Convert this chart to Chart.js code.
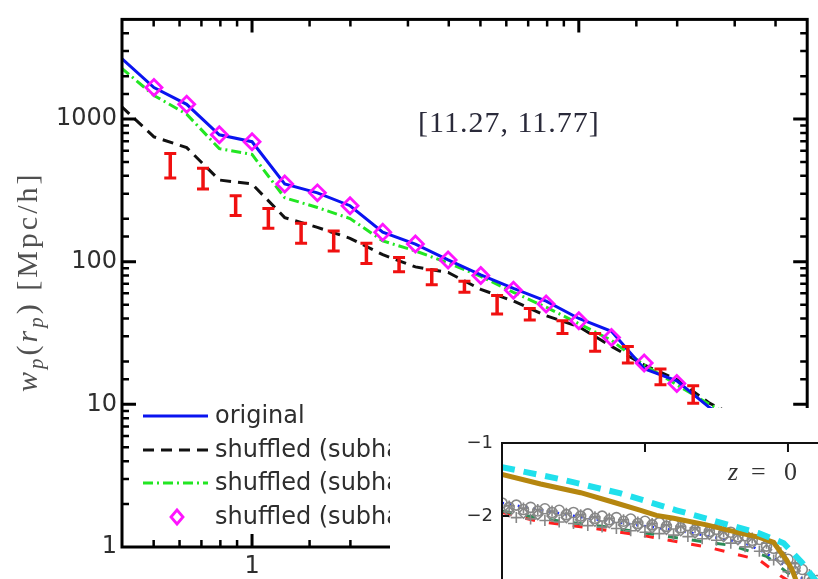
<!DOCTYPE html>
<html>
<head>
<meta charset="utf-8">
<script src="https://cdn.jsdelivr.net/npm/chart.js@4.4.0/dist/chart.umd.min.js"></script>
<style>
  html, body { margin: 0; padding: 0; background: #fff; }
  #wrap { position: relative; width: 818px; height: 579px; overflow: hidden; }
  #inset { position: absolute; left: 390px; top: 408px; width: 428px; height: 171px; background: #fff; overflow: hidden; }
  canvas { display: block; }
</style>
</head>
<body>
<div id="wrap">
  <canvas id="mainChart" width="818" height="579"></canvas>
  <div id="inset"><canvas id="insetChart" width="428" height="171"></canvas></div>
</div>
<script>
// ---- main panel: w_p(r_p), log-log ----
const rpBins = [0.398, 0.501, 0.631, 0.794, 1.0, 1.259, 1.585, 1.995, 2.512, 3.162, 3.981, 5.012, 6.310, 7.943, 10.0, 12.59, 15.85, 19.95, 25.12, 31.62];
const wpOriginal = [2678, 1663, 1269, 776, 694, 351, 304, 247, 161, 133, 103, 81, 65, 53, 40, 32.5, 17.8, 14.6, 9.5, 6.8];
const wpShuffledDash = [1230, 751, 631, 374, 351, 204, 174, 146, 112, 92, 84, 64, 53, 41.8, 35, 25.5, 18.9, 14.9, 10.2, 7.8];
const wpShuffledDashDot = [2285, 1465, 1082, 621, 565, 281, 240, 201, 140, 119, 98, 79, 61, 48, 36.8, 28.1, 18.9, 13.7, 10, 7.5];
const wpShuffledDiamond = [null, 1663, 1269, 776, 694, 351, 304, 247, 161, 133, 103, 80, 63, 50.5, 38.6, 29.4, 19.5, 14.0, null, null];

const obsRp = [0.562, 0.708, 0.891, 1.122, 1.413, 1.778, 2.239, 2.818, 3.548, 4.467, 5.623, 7.079, 8.913, 11.22, 14.13, 17.78, 22.39];
const obsHigh = [574, 452, 290, 236, 186, 164, 135, 107, 88, 73, 58, 47, 38.6, 31.4, 25.5, 17.7, 13.5];
const obsLow = [386, 324, 211, 172, 135, 119, 97, 85, 69, 61, 43, 39, 31.4, 23.6, 19.5, 13.7, 10.2];

const seriesLabels = ["original", "shuffled (subhalo mass)", "shuffled (subhalo Vmax)", "shuffled (subhalo Vpeak)"];
const binLabel = "[11.27, 11.77]";

// ---- inset panel ----
const insetMassGrid = [9.0, 9.1, 9.2, 9.3, 9.4, 9.5, 9.6, 9.7, 9.8, 9.9, 10.0, 10.1, 10.2, 10.3, 10.4, 10.5, 10.6, 10.7, 10.8, 10.9, 11.0, 11.1, 11.2];
const insetMassMid = [9.05, 9.15, 9.25, 9.35, 9.45, 9.55, 9.65, 9.75, 9.85, 9.95, 10.05, 10.15, 10.25, 10.35, 10.45, 10.55, 10.65, 10.75, 10.85, 10.95, 11.05, 11.15];
const insetCircles = [-1.82, -1.85, -1.88, -1.90, -1.92, -1.95, -1.97, -2.00, -2.02, -2.04, -2.07, -2.09, -2.11, -2.13, -2.16, -2.18, -2.22, -2.27, -2.32, -2.44, -2.59, -2.73, -2.88];
const insetCirclesMid = [-1.88, -1.91, -1.93, -1.95, -1.98, -2.00, -2.03, -2.05, -2.07, -2.10, -2.12, -2.14, -2.16, -2.19, -2.21, -2.24, -2.28, -2.33, -2.41, -2.55, -2.70, -2.85];
const insetDiamonds = [-1.94, -1.96, -1.98, -2.00, -2.02, -2.05, -2.07, -2.09, -2.12, -2.14, -2.16, -2.18, -2.20, -2.23, -2.25, -2.28, -2.32, -2.37, -2.46, -2.60, -2.75, -2.90];
const insetCrosses = [-2.00, -2.02, -2.04, -2.06, -2.08, -2.10, -2.13, -2.15, -2.17, -2.20, -2.22, -2.24, -2.26, -2.28, -2.31, -2.33, -2.37, -2.42, -2.48, -2.60, -2.76, -2.90, -3.04];
const insetCrossesTop = [-1.86, -1.89, -1.91, -1.93, -1.96, -1.98, -2.01, -2.03, -2.05, -2.08, -2.10, -2.12, -2.14, -2.16, -2.19, -2.21, -2.25, -2.30, -2.37, -2.50, -2.65, -2.80];
const cyanX = [9.0, 9.42, 9.83, 10.22, 10.79, 10.97, 11.1, 11.22];
const cyanY = [-1.33, -1.50, -1.69, -1.92, -2.23, -2.37, -2.64, -2.95];
const brownX = [9.0, 9.27, 9.55, 9.78, 9.97, 10.08, 10.2, 10.43, 10.66, 10.8, 10.9, 10.94, 10.99, 11.03, 11.08];
const brownY = [-1.43, -1.56, -1.68, -1.81, -1.92, -1.99, -2.03, -2.12, -2.23, -2.29, -2.36, -2.47, -2.60, -2.74, -3.0];
const blueDotX = [9.0, 9.4, 9.6, 10.05, 10.3, 10.7, 10.85, 11.0, 11.2];
const blueDotY = [-1.82, -1.96, -2.03, -2.15, -2.22, -2.37, -2.51, -2.70, -3.0];
const redDashX = [9.0, 9.25, 9.65, 10.0, 10.25, 10.45, 10.8, 10.95, 11.1];
const redDashY = [-1.95, -2.07, -2.17, -2.27, -2.36, -2.43, -2.60, -2.82, -3.0];
const greenDashX = [9.0, 9.3, 9.7, 10.0, 10.3, 10.6, 10.85, 11.0, 11.15];
const greenDashY = [-1.93, -2.04, -2.14, -2.23, -2.32, -2.40, -2.55, -2.78, -3.0];
const insetYTicks = [-2, -1];
const insetTopTicks = [10, 11];
const insetLeftTicks = [-2];

const TEXT = "#2e2e2e";
const SANS = "'DejaVu Sans', sans-serif";
const SERIF = "'Liberation Serif', serif";

function pts(xs, ys) {
    return xs.map((x, i) => ({ x: x, y: ys[i] }));
}

function isDecade(v) {
    const l = Math.log10(v);
    return Math.abs(l - Math.round(l)) < 1e-6;
}

// inward ticks on all four sides plus the frame
const frameTicks = {
    id: "frameTicks",
    afterDraw(chart) {
        const { ctx, chartArea: a, scales: { x, y } } = chart;
        ctx.save();
        ctx.strokeStyle = "#000";
        x.ticks.forEach(t => {
            const px = x.getPixelForValue(t.value);
            if (px < a.left + 2 || px > a.right - 2) return;
            const major = isDecade(t.value);
            const len = major ? 13 : 7;
            ctx.lineWidth = major ? 3 : 2.5;
            ctx.beginPath();
            ctx.moveTo(px, a.bottom); ctx.lineTo(px, a.bottom - len);
            ctx.moveTo(px, a.top); ctx.lineTo(px, a.top + len);
            ctx.stroke();
        });
        y.ticks.forEach(t => {
            const py = y.getPixelForValue(t.value);
            if (py < a.top + 2 || py > a.bottom - 2) return;
            const major = isDecade(t.value);
            const len = major ? 14 : 7;
            ctx.lineWidth = major ? 3 : 2.5;
            ctx.beginPath();
            ctx.moveTo(a.left, py); ctx.lineTo(a.left + len, py);
            ctx.moveTo(a.right, py); ctx.lineTo(a.right - len, py);
            ctx.stroke();
        });
        ctx.lineWidth = 3;
        ctx.strokeRect(a.left, a.top, a.right - a.left, a.bottom - a.top);
        ctx.restore();
    }
};

const errorBars = {
    id: "errorBars",
    afterDatasetsDraw(chart) {
        const { ctx, chartArea: a, scales: { x, y } } = chart;
        ctx.save();
        ctx.beginPath();
        ctx.rect(a.left, a.top, a.right - a.left, a.bottom - a.top);
        ctx.clip();
        ctx.strokeStyle = "#f01010";
        ctx.lineCap = "butt";
        obsRp.forEach((r, i) => {
            const px = x.getPixelForValue(r);
            const yTop = y.getPixelForValue(obsHigh[i]);
            const yBot = y.getPixelForValue(obsLow[i]);
            ctx.lineWidth = 3.5;
            ctx.beginPath();
            ctx.moveTo(px, yTop); ctx.lineTo(px, yBot);
            ctx.stroke();
            ctx.lineWidth = 3;
            ctx.beginPath();
            ctx.moveTo(px - 6, yTop); ctx.lineTo(px + 6, yTop);
            ctx.moveTo(px - 6, yBot); ctx.lineTo(px + 6, yBot);
            ctx.stroke();
        });
        ctx.restore();
    }
};

const texts = {
    id: "texts",
    afterDraw(chart) {
        const ctx = chart.ctx;
        ctx.save();
        // bin label
        ctx.fillStyle = "#2a2a3a";
        ctx.font = "30px " + SERIF;
        ctx.letterSpacing = "1px";
        ctx.textBaseline = "middle";
        ctx.fillText(binLabel, 418, 124);

        // y axis title, rotated
        ctx.translate(37, 392);
        ctx.rotate(-Math.PI / 2);
        ctx.fillStyle = "#505050";
        ctx.textBaseline = "alphabetic";
        ctx.letterSpacing = "3px";
        const parts = [
            ["italic 30px " + SERIF, "w", 0],
            ["italic 21px " + SERIF, "p", 6],
            ["30px " + SERIF, "(", 0],
            ["italic 30px " + SERIF, "r", 0],
            ["italic 21px " + SERIF, "p", 6],
            ["30px " + SERIF, ") [Mpc/h]", 0]
        ];
        let cx = 0;
        parts.forEach(([font, txt, dy]) => {
            ctx.font = font;
            ctx.fillText(txt, cx, dy);
            cx += ctx.measureText(txt).width;
        });
        ctx.restore();
    }
};

const legendBox = {
    id: "legendBox",
    afterDraw(chart) {
        const ctx = chart.ctx;
        const rows = [416, 450, 483, 517];
        ctx.save();
        chart.data.datasets.forEach(ds => {
            const yRow = rows[ds.legendRow];
            ctx.strokeStyle = ds.borderColor;
            ctx.lineWidth = ds.borderWidth;
            if (ds.showLine) {
                ctx.setLineDash(ds.borderDash || []);
                ctx.beginPath();
                ctx.moveTo(143, yRow); ctx.lineTo(208, yRow);
                ctx.stroke();
                ctx.setLineDash([]);
            } else {
                ctx.beginPath();
                ctx.moveTo(177, yRow - 7); ctx.lineTo(183, yRow);
                ctx.lineTo(177, yRow + 7); ctx.lineTo(171, yRow);
                ctx.closePath();
                ctx.stroke();
            }
            ctx.fillStyle = TEXT;
            ctx.font = "24px " + SANS;
            ctx.textBaseline = "middle";
            ctx.fillText(ds.label, 215, yRow + 1);
        });
        ctx.restore();
    }
};

new Chart(document.getElementById("mainChart"), {
    type: "scatter",
    data: {
        datasets: [
            {
                label: seriesLabels[3], legendRow: 3,
                data: pts(rpBins, wpShuffledDiamond),
                showLine: false, pointStyle: "rectRot", pointRadius: 8,
                borderColor: "#ff14ff", borderWidth: 2.8, backgroundColor: "rgba(0,0,0,0)"
            },
            {
                label: seriesLabels[0], legendRow: 0,
                data: pts(rpBins, wpOriginal),
                showLine: true, borderColor: "#0a14f0", borderWidth: 3, pointRadius: 0
            },
            {
                label: seriesLabels[2], legendRow: 2,
                data: pts(rpBins, wpShuffledDashDot),
                showLine: true, borderColor: "#22e622", borderWidth: 3, borderDash: [10, 4, 2, 4], pointRadius: 0
            },
            {
                label: seriesLabels[1], legendRow: 1,
                data: pts(rpBins, wpShuffledDash),
                showLine: true, borderColor: "#111", borderWidth: 3, borderDash: [11, 7], pointRadius: 0
            }
        ]
    },
    options: {
        responsive: false,
        animation: false,
        devicePixelRatio: 1,
        layout: { padding: { top: 12, right: 2, left: 0, bottom: 0 } },
        plugins: { legend: { display: false }, tooltip: { enabled: false } },
        scales: {
            x: {
                type: "logarithmic", min: 0.4, max: 50,
                grid: { display: false, drawTicks: false }, border: { display: false },
                ticks: {
                    autoSkip: false, maxRotation: 0, padding: 5, color: TEXT,
                    font: { family: "DejaVu Sans", size: 24 },
                    callback: v => isDecade(v) ? String(Math.round(v)) : ""
                },
                afterFit(scale) { scale.height = 32; }
            },
            y: {
                type: "logarithmic", min: 1, max: 5000,
                grid: { display: false, drawTicks: false }, border: { display: false },
                ticks: {
                    autoSkip: false, padding: 5, color: TEXT,
                    font: { family: "DejaVu Sans", size: 24 },
                    callback: v => isDecade(v) ? String(Math.round(v)) : ""
                },
                afterFit(scale) { scale.width = 122; }
            }
        }
    },
    plugins: [errorBars, frameTicks, texts, legendBox]
});

// ---- inset ----
const insetFrame = {
    id: "insetFrame",
    afterDraw(chart) {
        const { ctx, chartArea: a, scales: { x, y } } = chart;
        ctx.save();
        ctx.strokeStyle = "#111";
        ctx.lineWidth = 2;
        ctx.beginPath();
        ctx.moveTo(a.left, a.bottom + 2); ctx.lineTo(a.left, a.top); ctx.lineTo(a.right + 2, a.top);
        insetTopTicks.forEach(v => {
            const px = x.getPixelForValue(v);
            ctx.moveTo(px, a.top); ctx.lineTo(px, a.top + 9);
        });
        insetLeftTicks.forEach(v => {
            const py = y.getPixelForValue(v);
            ctx.moveTo(a.left, py); ctx.lineTo(a.left + 7, py);
        });
        ctx.stroke();
        // z = 0
        ctx.fillStyle = "#333";
        ctx.textBaseline = "alphabetic";
        ctx.font = "italic 26px " + SERIF;
        ctx.fillText("z", 338, 72);
        ctx.font = "26px " + SERIF;
        ctx.fillText("=", 361, 72);
        ctx.fillText("0", 394, 72);
        ctx.restore();
    }
};

const gray = "#878787";
const hollow = "rgba(0,0,0,0)";
new Chart(document.getElementById("insetChart"), {
    type: "scatter",
    data: {
        datasets: [
            { data: pts(cyanX, cyanY), showLine: true, borderColor: "#20e0ec", borderWidth: 6, borderDash: [13, 9], pointRadius: 0 },
            { data: pts(brownX, brownY), showLine: true, borderColor: "#b5860f", borderWidth: 5, pointRadius: 0 },
            { data: pts(insetMassGrid, insetCircles), pointStyle: "circle", pointRadius: 5, borderColor: gray, borderWidth: 1.6, backgroundColor: hollow },
            { data: pts(insetMassMid, insetCirclesMid), pointStyle: "circle", pointRadius: 5, borderColor: gray, borderWidth: 1.6, backgroundColor: hollow },
            { data: pts(insetMassMid, insetDiamonds), pointStyle: "rectRot", pointRadius: 5, borderColor: gray, borderWidth: 1.6, backgroundColor: hollow },
            { data: pts(insetMassGrid, insetCrosses), pointStyle: "cross", pointRadius: 5.5, borderColor: gray, borderWidth: 1.6 },
            { data: pts(insetMassMid, insetCrossesTop), pointStyle: "cross", pointRadius: 5.5, borderColor: gray, borderWidth: 1.6 },
            { data: pts(blueDotX, blueDotY), showLine: true, borderColor: "#2030ff", borderWidth: 2.5, borderDash: [2, 6], pointRadius: 0 },
            { data: pts(greenDashX, greenDashY), showLine: true, borderColor: "#2e8b57", borderWidth: 3, borderDash: [10, 14], pointRadius: 0 },
            { data: pts(redDashX, redDashY), showLine: true, borderColor: "#ff2020", borderWidth: 3, borderDash: [10, 14], pointRadius: 0 }
        ]
    },
    options: {
        responsive: false,
        animation: false,
        devicePixelRatio: 1,
        layout: { autoPadding: false, padding: { top: 35, right: 0, left: 0, bottom: 0 } },
        plugins: { legend: { display: false }, tooltip: { enabled: false } },
        scales: {
            x: { type: "linear", min: 9, max: 11.21, display: false },
            y: {
                type: "linear", min: -2.86, max: -1, bounds: "data",
                grid: { display: false, drawTicks: false }, border: { display: false },
                ticks: {
                    padding: 9, color: TEXT,
                    font: { family: "DejaVu Sans", size: 18 },
                    callback: v => "\u2212" + Math.abs(v)
                },
                afterBuildTicks(scale) { scale.ticks = insetYTicks.map(v => ({ value: v })); },
                afterFit(scale) {
                    scale.width = 112;
                    scale.paddingTop = 0;
                    scale.paddingBottom = 0;
                }
            }
        }
    },
    plugins: [insetFrame]
});
</script>
</body>
</html>
